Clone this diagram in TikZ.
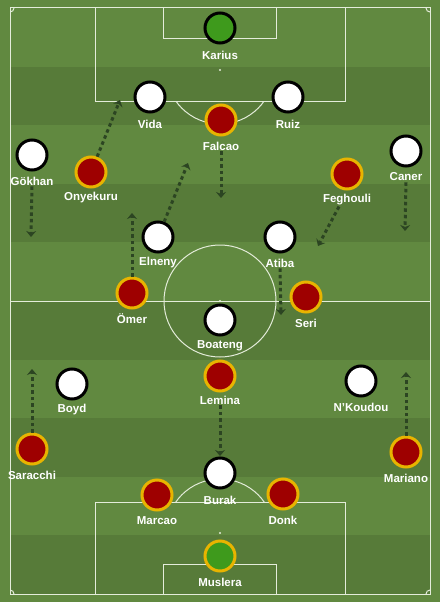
\documentclass[tikz,border=0pt]{standalone}
\usepackage{fontspec}
\setmainfont{Liberation Sans}
\usetikzlibrary{arrows.meta}
\definecolor{grassL}{HTML}{618940}
\definecolor{grassD}{HTML}{577B39}
\definecolor{chalk}{HTML}{E4ECDA}
\definecolor{runC}{HTML}{2C4522}
\definecolor{redP}{HTML}{9E0000}
\definecolor{goldP}{HTML}{E8B400}
\definecolor{keeperG}{HTML}{3E9A1C}

\begin{document}
\begin{tikzpicture}[x=1pt,y=-1pt,node distance=26pt,
  home/.style={circle,draw=black,fill=white,line width=3pt,minimum size=30pt,inner sep=0pt},
  away/.style={circle,draw=goldP,fill=redP,line width=3pt,minimum size=30pt,inner sep=0pt},
  keeper/.style={fill=keeperG},
  player/.style={text=white,font=\bfseries\fontsize{11.5}{12}\selectfont,inner sep=1pt},
  chalkline/.style={draw=chalk,line width=1pt},
  runarrow/.style={draw=runC,line width=3pt,dash pattern=on 3.5pt off 3pt,
    -{Stealth[length=6pt,width=10pt]}}]

% grass
\fill[grassL] (0,0) rectangle (440,602);
\foreach \k in {1,3,5,7,9}
  \fill[grassD] (10,8+58.6*\k) rectangle (430,8+58.6*\k+58.6);

% pitch markings
\draw[chalkline] (10,8) rectangle (430,594);
\draw[chalkline] (10,301) -- (430,301);
\draw[chalkline] (220,301) circle[radius=56];
\fill[chalk] (220,301) circle[radius=1.2];
\draw[chalkline] (95,8) rectangle (345,101);
\draw[chalkline] (163,8) rectangle (276,39);
\fill[chalk] (220,70) circle[radius=1.2];
\draw[chalkline] (95,594) rectangle (345,502);
\draw[chalkline] (163,594) rectangle (276,564);
\fill[chalk] (220,533) circle[radius=1.2];
\begin{scope}
  \clip (0,101) rectangle (440,200);
  \draw[chalkline] (220,70) circle[radius=54];
\end{scope}
\begin{scope}
  \clip (0,400) rectangle (440,502);
  \draw[chalkline] (220,533) circle[radius=54];
\end{scope}
\begin{scope}
  \clip (10,8) rectangle (430,594);
  \foreach \cx/\cy in {10/8,430/8,10/594,430/594}
    \draw[chalkline] (\cx,\cy) circle[radius=4];
\end{scope}

% white team
\node[home,keeper](karius) at (220,28){};
\node[home](vida) at (150,97){};
\node[home](ruiz) at (288,97){};
\node[home](gokhan) at (32,155){};
\node[home](caner) at (406,151){};
\node[home](elneny) at (158,237){};
\node[home](atiba) at (280,237){};
\node[home](boateng) at (220,320){};
\node[home](boyd) at (72,384){};
\node[home](nkoudou) at (361,381){};
\node[home](burak) at (220,473){};

% red team
\node[away](falcao) at (221,120){};
\node[away](onyekuru) at (91,172){};
\node[away](feghouli) at (347,174){};
\node[away](omer) at (132,293){};
\node[away](seri) at (306,297){};
\node[away](lemina) at (220,376){};
\node[away](saracchi) at (32,449){};
\node[away](mariano) at (406,452){};
\node[away](marcao) at (157,495){};
\node[away](donk) at (283,494){};
\node[away,keeper](muslera) at (220,556){};

% names
\node[player](kariusL)[below of=karius,yshift=-1pt]{Karius};
\node[player](vidaL)[below of=vida,yshift=-1pt]{Vida};
\node[player](ruizL)[below of=ruiz,yshift=-1pt]{Ruiz};
\node[player](falcaoL)[below of=falcao]{Falcao};
\node[player](gokhanL)[below of=gokhan]{Gökhan};
\node[player](onyekuruL)[below of=onyekuru]{Onyekuru};
\node[player](feghouliL)[below of=feghouli]{Feghouli};
\node[player](canerL)[below of=caner]{Caner};
\node[player](elnenyL)[below of=elneny]{Elneny};
\node[player](atibaL)[below of=atiba]{Atiba};
\node[player](omerL)[below of=omer]{Ömer};
\node[player](seriL)[below of=seri]{Seri};
\node[player](boatengL)[below of=boateng]{Boateng};
\node[player](leminaL)[below of=lemina,yshift=2pt]{Lemina};
\node[player](boydL)[below of=boyd]{Boyd};
\node[player](nkoudouL)[below of=nkoudou]{N'Koudou};
\node[player](saracchiL)[below of=saracchi]{Saracchi};
\node[player](marianoL)[below of=mariano]{Mariano};
\node[player](burakL)[below of=burak,yshift=-1pt]{Burak};
\node[player](marcaoL)[below of=marcao]{Marcao};
\node[player](donkL)[below of=donk]{Donk};
\node[player](musleraL)[below of=muslera]{Muslera};

% runs
\coordinate(onyekuruR) at (120,100);
\coordinate(elnenyR) at (188,163);
\coordinate(falcaoR) at (221,198);
\coordinate(gokhanR) at (31,237);
\coordinate(canerR) at (405,231);
\coordinate(feghouliR) at (318,246);
\coordinate(omerR) at (132,213);
\coordinate(atibaR) at (281,315);
\coordinate(saracchiR) at (32,369);
\coordinate(marianoR) at (406,372);
\coordinate(leminaR) at (220,456);

\draw[runarrow](onyekuru) -- (onyekuruR);
\draw[runarrow](elneny) -- (elnenyR);
\draw[runarrow](falcaoL.south) -- (falcaoR);
\draw[runarrow](gokhanL.south) -- (gokhanR);
\draw[runarrow](canerL.south) -- (canerR);
\draw[runarrow]([xshift=-8pt]feghouliL.south) -- (feghouliR);
\draw[runarrow](omer) -- (omerR);
\draw[runarrow](atibaL.south) -- (atibaR);
\draw[runarrow](saracchi) -- (saracchiR);
\draw[runarrow](mariano) -- (marianoR);
\draw[runarrow](leminaL.south) -- (leminaR);

\useasboundingbox (0,0) rectangle (440,602);
\end{tikzpicture}
\end{document}
